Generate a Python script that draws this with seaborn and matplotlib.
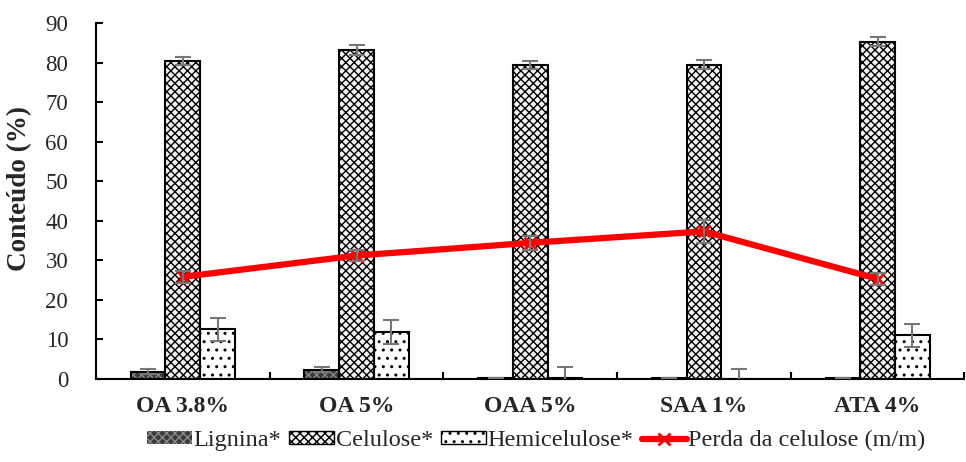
import matplotlib
matplotlib.use("Agg")
import matplotlib.pyplot as plt
import seaborn as sns
import pandas as pd
import numpy as np
from matplotlib.patches import Patch
from matplotlib.lines import Line2D

categories = ["OA 3.8%", "OA 5%", "OAA 5%", "SAA 1%", "ATA 4%"]
lignina = [1.8, 2.3, 0.3, 0.3, 0.3]
lignina_err = [0.6, 0.6, 0.0, 0.0, 0.0]
celulose = [80.5, 83.2, 79.3, 79.5, 85.3]
celulose_err = [1.0, 1.2, 1.0, 1.2, 1.2]
hemicelulose = [12.5, 11.8, 0.3, 0.0, 11.0]
hemicelulose_err = [3.0, 3.0, 2.6, 2.6, 3.0]
perda = [25.8, 31.2, 34.4, 37.3, 25.3]
perda_err = [1.5, 1.5, 1.8, 3.0, 1.5]
series = ["Lignina*", "Celulose*", "Hemicelulose*"]

sns.set_theme(style="ticks")
plt.rcParams['font.family'] = ['Liberation Serif', 'DejaVu Serif']
plt.rcParams['hatch.linewidth'] = 1.0

df = pd.DataFrame({
    "cat": categories * 3,
    "serie": [series[0]] * 5 + [series[1]] * 5 + [series[2]] * 5,
    "val": lignina + celulose + hemicelulose,
})

fig = plt.figure(figsize=(9.66, 4.62), dpi=100)
ax = fig.add_axes([0.0994, 0.180, 0.899, 0.770])

sns.barplot(data=df, x="cat", y="val", hue="serie", order=categories,
            hue_order=series, width=0.6, gap=0, errorbar=None,
            legend=False, ax=ax, saturation=1)

faces = ["#3a3a3a", "#f2f2f2", "#ffffff"]
hatches = ["xxxx", "xxxx", ".."]
hcolors = ["#8a8a8a", "black", "black"]
errs = [lignina_err, celulose_err, hemicelulose_err]
vals = [lignina, celulose, hemicelulose]
bar_containers = list(ax.containers)
for i, cont in enumerate(bar_containers):
    xs = []
    for p in cont.patches:
        p.set_facecolor(faces[i])
        p.set_edgecolor(hcolors[i])
        p.set_hatch(hatches[i])
        p.set_linewidth(0)
        xs.append(p.get_x() + p.get_width() / 2)
        ax.add_patch(plt.Rectangle((p.get_x(), 0), p.get_width(), p.get_height(),
                                   fill=False, edgecolor="black", linewidth=1.5, zorder=3))
    ax.errorbar(xs, vals[i], yerr=errs[i], fmt="none", ecolor="#777777",
                elinewidth=1.5, capsize=6, capthick=1.5, zorder=4)

ax.plot(range(len(categories)), perda, color="#ff0000", linewidth=4.5,
        marker="x", markersize=9, markeredgewidth=2, zorder=5)
ax.errorbar(range(len(categories)), perda, yerr=perda_err, fmt="none",
            ecolor="#777777", elinewidth=1.5, capsize=6, capthick=1.5, zorder=6)

ax.set_xlim(-0.5, 4.5)
ax.set_ylim(0, 90)
ax.set_yticks(np.arange(0, 91, 10))
ax.set_xticks(range(len(categories)))
ax.set_xticklabels(categories, fontsize=17, fontweight="bold")
ax.set_xticks(np.arange(-0.5, 4.6, 1), minor=True)
ax.tick_params(axis="x", which="major", length=0, pad=12)
ax.tick_params(axis="x", which="minor", direction="in", length=5, width=1.5, color="black")
ax.tick_params(axis="y", direction="in", length=5, width=1.5, labelsize=16.5, pad=20, color="black")
ax.set_xlabel("")
ax.set_ylabel("Conteúdo (%)", fontsize=19.5, fontweight="bold")
ax.yaxis.set_label_coords(-0.073, 0.535)
for s in ["top", "right"]:
    ax.spines[s].set_visible(False)
for s in ["left", "bottom"]:
    ax.spines[s].set_linewidth(1.5)
    ax.spines[s].set_color("black")

handles = [
    Patch(facecolor=faces[0], edgecolor=hcolors[0], hatch=hatches[0], linewidth=0),
    Patch(facecolor=faces[1], edgecolor="black", hatch=hatches[1]),
    Patch(facecolor=faces[2], edgecolor="black", hatch=hatches[2]),
    Line2D([0], [0], color="#ff0000", linewidth=4.5, marker="x", markersize=9, markeredgewidth=2),
]
fig.legend(handles, ["Lignina*", "Celulose*", "Hemicelulose*", "Perda da celulose (m/m)"],
           loc="center", bbox_to_anchor=(0.555, 0.046), ncol=4, frameon=False,
           fontsize=17.5, handlelength=1.85, handleheight=0.4, handletextpad=0.05,
           columnspacing=0.35)

fig.savefig("out.png", dpi=100)
